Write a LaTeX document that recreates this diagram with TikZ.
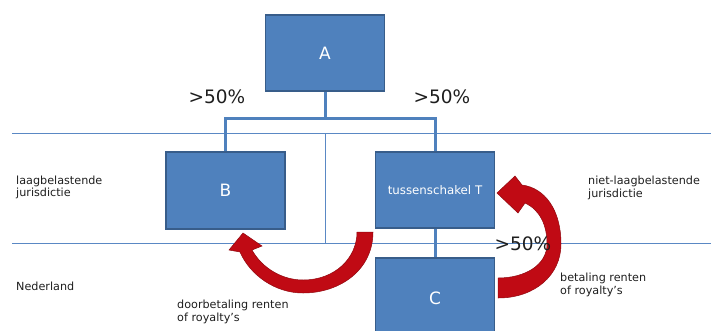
\documentclass[tikz,border=0pt]{standalone}
\usepackage{fontspec}
\setmainfont{DejaVu Sans}
\definecolor{boxblue}{HTML}{4F81BD}
\definecolor{boxedge}{HTML}{385D8A}
\definecolor{thinblue}{HTML}{5A88C4}
\definecolor{arrred}{HTML}{C00A14}
\definecolor{txt}{HTML}{1E1E1E}
\begin{document}
\begin{tikzpicture}[x=1pt,y=-1pt,
  entity/.style={draw=boxedge,line width=1.2pt,fill=boxblue,text=white,minimum width=119pt,inner sep=0pt},
  conn/.style={draw=boxblue,line width=3pt},
  sep/.style={draw=thinblue,line width=1pt},
  lbl/.style={text=txt,font=\fontsize{11.2}{12.8}\selectfont,align=left,anchor=west,inner sep=0pt},
  pct/.style={text=txt,font=\fontsize{18.5}{20}\selectfont,inner sep=0pt},
  redarrow/.style={fill=arrred,draw=arrred!75!black,line width=0.5pt}]
\clip (0,0) rectangle (711,330);
% separator lines
\coordinate (l1w) at (12,133);
\coordinate (l1e) at (711,133);
\coordinate (l2w) at (12,243);
\coordinate (l2e) at (711,243);
\coordinate (vt) at (325,133);
\coordinate (vb) at (325,243);
\draw[sep] (l1w) -- (l1e);
\draw[sep] (l2w) -- (l2e);
\draw[sep] (vt) -- (vb);
% boxes
\node[entity,minimum height=76pt,font=\fontsize{17}{20}\selectfont] (A) at (325,53) {A};
\node[entity,minimum height=77pt,font=\fontsize{17}{20}\selectfont] (B) at (225.5,190.5) {B};
\node[entity,minimum height=76pt,font=\fontsize{11.8}{14}\selectfont] (T) at (435,190) {tussenschakel T};
\node[entity,minimum height=80pt,font=\fontsize{17}{20}\selectfont] (C) at (435,298) {C};
% connectors
\coordinate (j) at (325,118);
\draw[conn] (A.south) -- (j);
\draw[conn] (B.north) |- (j) -| (T.north);
\draw[conn] (T.south) -- (C.north);
% red arrows
\draw[redarrow] (373,232) .. controls (373,270) and (340,293) .. (303,293)
  .. controls (275,293) and (250,275) .. (240,252)
  -- (229,250) -- (243,233) -- (262,246) -- (252,250)
  .. controls (262,268) and (282,280) .. (303,280)
  .. controls (335,280) and (357,258) .. (357,232) -- cycle;
\draw[redarrow] (498,298) .. controls (535,298) and (561,275) .. (561,244)
  .. controls (561,210) and (545,188) .. (522,185)
  -- (515,176) -- (497,193) -- (518,213) -- (525,203)
  .. controls (540,210) and (547,225) .. (547,244)
  .. controls (547,265) and (525,278) .. (498,278) -- cycle;
% labels
\node[pct] (p1) at (217,97) {>50\%};
\node[pct] (p2) at (442,97) {>50\%};
\node[pct] (p3) at (523,244) {>50\%};
\node[lbl] (lj) at (16,187.5) {laagbelastende\\jurisdictie};
\node[lbl] (nl) at (16,286) {Nederland};
\node[lbl] (nj) at (588,188) {niet-laagbelastende\\jurisdictie};
\node[lbl] (br) at (560,285) {betaling renten\\of royalty’s};
\node[lbl] (dr) at (177,312) {doorbetaling renten\\of royalty’s};
\end{tikzpicture}
\end{document}
